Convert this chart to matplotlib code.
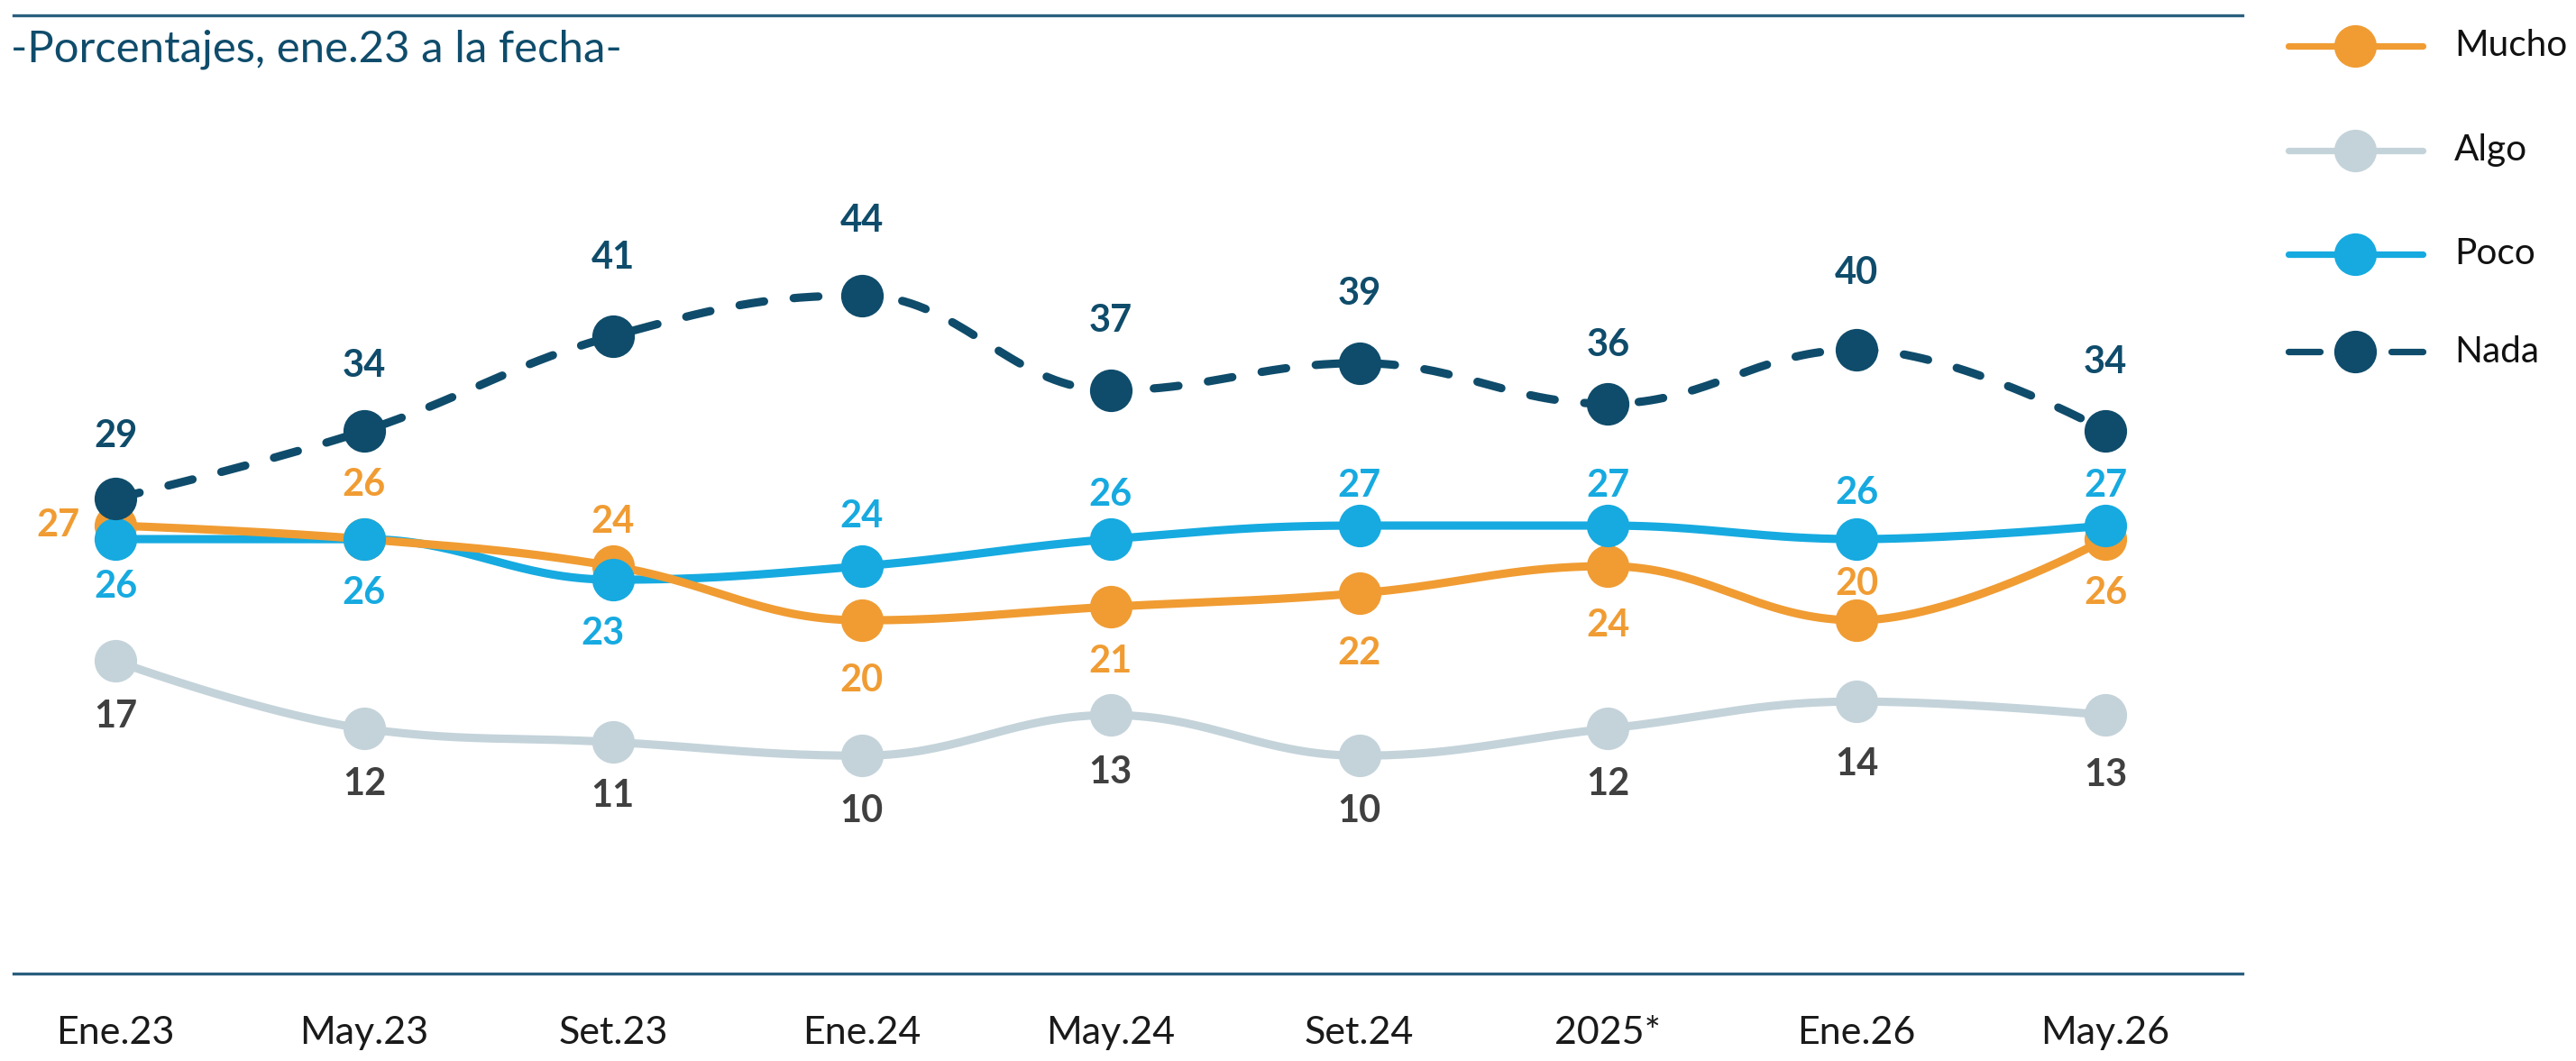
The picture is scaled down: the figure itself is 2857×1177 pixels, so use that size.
import matplotlib.pyplot as plt
from matplotlib.lines import Line2D
import numpy as np

plt.rcParams['font.family'] = ['Lato', 'DejaVu Sans']

# datos
periodos = ['Ene.23', 'May.23', 'Set.23', 'Ene.24', 'May.24', 'Set.24', '2025*', 'Ene.26', 'May.26']
mucho = [27, 26, 24, 20, 21, 22, 24, 20, 26]
algo = [17, 12, 11, 10, 13, 10, 12, 14, 13]
poco = [26, 26, 23, 24, 26, 27, 27, 26, 27]
nada = [29, 34, 41, 44, 37, 39, 36, 40, 34]

c_mucho = '#f09c33'
c_algo = '#c4d3da'
c_poco = '#16aae0'
c_nada = '#0f4c6b'
c_algo_txt = '#404040'

# desplazamiento de etiquetas (puntos)
dy_mucho = [0, 21.6, 17.7, -24, -22, -24, -23.6, 14.4, -21.6]
dx_mucho = [-23, 0, 0, 0, 0, 0, 0, 0, 0]
dy_poco = [-19, -21.6, -21.6, 19.7, 17.7, 15.7, 15.7, 18.3, 15.7]
dx_poco = [0, 0, -4, 0, 0, 0, 0, 0, 0]
dy_algo = [-22.3, -22.3, -21.6, -22.3, -23, -22.3, -22.3, -25, -24]
dy_nada = [25, 26, 31.3, 29.9, 27.5, 27.5, 23.4, 30.6, 27.4]


def spline(ys, n=40):
    # curva suave tipo "spline" (puntos de control a 1.5/2.5)
    xs = np.arange(len(ys), dtype=float)
    ys = np.asarray(ys, dtype=float)
    k = 1.5
    d = k + 1
    m = len(xs)
    lc = np.column_stack([xs, ys])
    rc = lc.copy()
    for i in range(1, m - 1):
        px, py = xs[i], ys[i]
        lx, ly = xs[i - 1], ys[i - 1]
        nx, ny = xs[i + 1], ys[i + 1]
        lcx, lcy = (k * px + lx) / d, (k * py + ly) / d
        rcx, rcy = (k * px + nx) / d, (k * py + ny) / d
        corr = (rcy - lcy) * (rcx - px) / (rcx - lcx) + py - rcy
        lcy += corr
        rcy += corr
        if lcy > ly and lcy > py:
            lcy = max(ly, py); rcy = 2 * py - lcy
        elif lcy < ly and lcy < py:
            lcy = min(ly, py); rcy = 2 * py - lcy
        if rcy > ny and rcy > py:
            rcy = max(ny, py); lcy = 2 * py - rcy
        elif rcy < ny and rcy < py:
            rcy = min(ny, py); lcy = 2 * py - rcy
        lc[i] = lcx, lcy
        rc[i] = rcx, rcy
    t = np.linspace(0, 1, n)[:, None]
    segs = []
    for i in range(m - 1):
        p0 = np.array([xs[i], ys[i]])
        p3 = np.array([xs[i + 1], ys[i + 1]])
        p1, p2 = rc[i], lc[i + 1]
        b = (1 - t) ** 3 * p0 + 3 * (1 - t) ** 2 * t * p1 + 3 * (1 - t) * t ** 2 * p2 + t ** 3 * p3
        segs.append(b if i == 0 else b[1:])
    pts = np.vstack(segs)
    return pts[:, 0], pts[:, 1]


fig = plt.figure(figsize=(14.285, 5.885), dpi=200)
ax = fig.add_axes([0.00525, 0.0824, 0.8652, 0.9032])

x = np.arange(len(periodos))
lw = 3.3
ms = 17

series = [
    (algo, c_algo, '-', 2.0, 3.0),
    (poco, c_poco, '-', 2.1, 3.1),
    (mucho, c_mucho, '-', 2.2, 3.05),
    (nada, c_nada, (0, (3.0, 3.6)), 2.3, 3.2),
]
for vals, col, ls, zl, zm in series:
    sx, sy = spline(vals)
    ax.plot(sx, sy, color=col, lw=lw, ls=ls, zorder=zl,
            solid_capstyle='round', dash_capstyle='round')
    ax.plot(x, vals, 'o', ms=ms, color=col, mew=0, zorder=zm)

lbl = dict(textcoords='offset points', ha='center', va='center',
           fontsize=15, fontweight='bold', zorder=5)
for i in x:
    ax.annotate(str(mucho[i]), (i, mucho[i]), xytext=(dx_mucho[i], dy_mucho[i]), color=c_mucho, **lbl)
    ax.annotate(str(poco[i]), (i, poco[i]), xytext=(dx_poco[i], dy_poco[i]), color=c_poco, **lbl)
    ax.annotate(str(algo[i]), (i, algo[i]), xytext=(0, dy_algo[i]), color=c_algo_txt, **lbl)
    ax.annotate(str(nada[i]), (i, nada[i]), xytext=(0, dy_nada[i]), color=c_nada, **lbl)

ax.set_xlim(-0.41, 8.55)
ax.set_ylim(-6.1, 64.7)
ax.set_xticks(x)
ax.set_xticklabels(periodos, fontsize=15.5, color='#1a1a1a')
ax.set_yticks([])
ax.tick_params(axis='x', length=0, pad=17)
for s in ['left', 'right']:
    ax.spines[s].set_visible(False)
for s in ['top', 'bottom']:
    ax.spines[s].set_color('#2a5f7f')
    ax.spines[s].set_linewidth(1.2)

fig.text(0.0042, 0.942, '-Porcentajes, ene.23 a la fecha-', fontsize=17.7,
         color=c_nada, ha='left', va='baseline')

# leyenda
ley_nombres = ['Mucho', 'Algo', 'Poco', 'Nada']
ley_colores = [c_mucho, c_algo, c_poco, c_nada]
ley_y = [0.957, 0.8585, 0.7608, 0.6685]
x0, x1, xm = 2538 / 2857, 2687 / 2857, 2612 / 2857
for nom, col, yy in zip(ley_nombres, ley_colores, ley_y):
    if nom == 'Nada':
        for a, b in [(x0, 2573 / 2857), (2652 / 2857, x1)]:
            fig.add_artist(Line2D([a, b], [yy, yy], color=col, lw=2.6, solid_capstyle='round'))
    else:
        fig.add_artist(Line2D([x0, x1], [yy, yy], color=col, lw=2.6, solid_capstyle='round'))
    fig.add_artist(Line2D([xm], [yy], marker='o', ms=ms, color=col, mew=0))
    fig.text(2722 / 2857, yy, nom, fontsize=14.6, color='#111111', ha='left', va='center')

fig.savefig('out.png', dpi=200, facecolor='white')
